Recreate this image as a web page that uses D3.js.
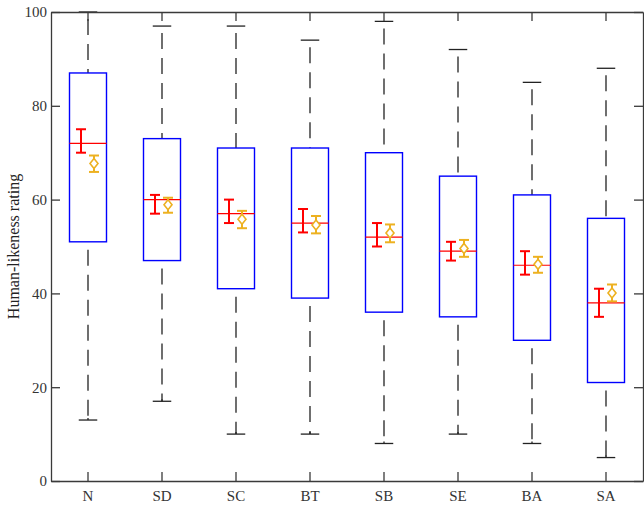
<!DOCTYPE html>
<html>
<head>
<meta charset="utf-8">
<script src="https://cdn.jsdelivr.net/npm/d3@7"></script>
<style>
  body { margin: 0; background: #fff; }
  svg { display: block; font-family: "Liberation Serif", "DejaVu Serif", serif; }
</style>
</head>
<body>
<div id="wrapper"></div>
<script>
const categories = ["N", "SD", "SC", "BT", "SB", "SE", "BA", "SA"]
const whiskerHigh = [100, 97, 97, 94, 98, 92, 85, 88]
const q3 = [87, 73, 71, 71, 70, 65, 61, 56]
const medians = [72, 60, 57, 55, 52, 49, 46, 38]
const q1 = [51, 47, 41, 39, 36, 35, 30, 21]
const whiskerLow = [13, 17, 10, 10, 8, 10, 8, 5]
const medianCILow = [70, 57, 55, 53, 50, 47, 44, 35]
const medianCIHigh = [75, 61, 60, 58, 55, 51, 49, 41]
const means = [67.7, 58.9, 55.8, 54.6, 52.9, 49.6, 46.2, 40.1]
const meanCILow = [65.9, 57.2, 53.9, 52.8, 50.9, 47.8, 44.4, 38.3]
const meanCIHigh = [69.4, 60.4, 57.6, 56.5, 54.7, 51.4, 47.8, 41.9]
const yTicks = [0, 20, 40, 60, 80, 100]

function drawBoxChart(){
    const dataset = categories.map((c, i) => ({
        cat: c,
        hi: whiskerHigh[i], q3: q3[i], med: medians[i], q1: q1[i], lo: whiskerLow[i],
        ciLo: medianCILow[i], ciHi: medianCIHigh[i],
        mean: means[i], mLo: meanCILow[i], mHi: meanCIHigh[i],
    }))

    let dimensions = {
        width: 644,
        height: 506,
        margin: { top: 12, right: 1, bottom: 25, left: 51 },
    }
    dimensions.boundedWidth = dimensions.width - dimensions.margin.left - dimensions.margin.right
    dimensions.boundedHeight = dimensions.height - dimensions.margin.top - dimensions.margin.bottom

    const wrapper = d3.select("#wrapper")
        .append("svg")
        .attr("width", dimensions.width)
        .attr("height", dimensions.height)

    const bounds = wrapper.append("g")
        .attr("transform", `translate(${dimensions.margin.left},${dimensions.margin.top})`)

    const yScale = d3.scaleLinear()
        .domain([0, 100])
        .range([dimensions.boundedHeight, 0])

    const xScale = d3.scaleBand()
        .domain(categories)
        .range([0, dimensions.boundedWidth])

    const cx = d => xScale(d.cat) + xScale.bandwidth() / 2
    const boxW = xScale.bandwidth() * 0.5
    const capW = boxW * 0.5
    const axisColor = "#3a3a3a"

    // whiskers (dashed, drawn top to bottom, starting with a gap)
    const groups = bounds.selectAll(".box").data(dataset).join("g").attr("class", "box")
    groups.append("line")
        .attr("x1", cx).attr("x2", cx)
        .attr("y1", d => yScale(d.hi)).attr("y2", d => yScale(d.q3))
        .attr("stroke", "#222").attr("stroke-width", 1.3)
        .attr("stroke-dasharray", "16,9").attr("stroke-dashoffset", 18)
    groups.append("line")
        .attr("x1", cx).attr("x2", cx)
        .attr("y1", d => yScale(d.q1)).attr("y2", d => yScale(d.lo))
        .attr("stroke", "#222").attr("stroke-width", 1.3)
        .attr("stroke-dasharray", "16,9").attr("stroke-dashoffset", 17)
    // caps
    groups.append("line")
        .attr("x1", d => cx(d) - capW / 2).attr("x2", d => cx(d) + capW / 2)
        .attr("y1", d => yScale(d.hi)).attr("y2", d => yScale(d.hi))
        .attr("stroke", "#222").attr("stroke-width", 1.3)
    groups.append("line")
        .attr("x1", d => cx(d) - capW / 2).attr("x2", d => cx(d) + capW / 2)
        .attr("y1", d => yScale(d.lo)).attr("y2", d => yScale(d.lo))
        .attr("stroke", "#222").attr("stroke-width", 1.3)
    // short vertical stub from the cap
    groups.append("line")
        .attr("x1", cx).attr("x2", cx)
        .attr("y1", d => yScale(d.lo)).attr("y2", d => yScale(d.lo) - 2)
        .attr("stroke", "#222").attr("stroke-width", 1.3)

    // boxes
    groups.append("rect")
        .attr("x", d => cx(d) - boxW / 2)
        .attr("width", boxW)
        .attr("y", d => yScale(d.q3))
        .attr("height", d => yScale(d.q1) - yScale(d.q3))
        .attr("fill", "white")
        .attr("stroke", "#0000ff")
        .attr("stroke-width", 1.4)

    // median line
    groups.append("line")
        .attr("x1", d => cx(d) - boxW / 2).attr("x2", d => cx(d) + boxW / 2)
        .attr("y1", d => yScale(d.med)).attr("y2", d => yScale(d.med))
        .attr("stroke", "#ff0000").attr("stroke-width", 1.2)

    // error bars: red (median CI), orange (mean CI)
    function errorBar(sel, xOff, loKey, hiKey, color){
        const eb = sel.append("g").attr("stroke", color).attr("stroke-width", 2)
        eb.append("line")
            .attr("x1", d => cx(d) + xOff).attr("x2", d => cx(d) + xOff)
            .attr("y1", d => yScale(d[loKey])).attr("y2", d => yScale(d[hiKey]))
        eb.append("line")
            .attr("x1", d => cx(d) + xOff - 5).attr("x2", d => cx(d) + xOff + 5)
            .attr("y1", d => yScale(d[loKey])).attr("y2", d => yScale(d[loKey]))
        eb.append("line")
            .attr("x1", d => cx(d) + xOff - 5).attr("x2", d => cx(d) + xOff + 5)
            .attr("y1", d => yScale(d[hiKey])).attr("y2", d => yScale(d[hiKey]))
    }
    errorBar(groups, -7, "ciLo", "ciHi", "#ff0000")
    errorBar(groups, 6, "mLo", "mHi", "#EDB120")

    groups.append("path")
        .attr("d", d => {
            const x = cx(d) + 6, y = yScale(d.mean)
            return `M${x},${y - 5}L${x + 4},${y}L${x},${y + 5}L${x - 4},${y}Z`
        })
        .attr("fill", "white")
        .attr("stroke", "#EDB120")
        .attr("stroke-width", 1.6)

    // axes (ticks inward, box around)
    const yAxis = bounds.append("g")
        .call(d3.axisLeft(yScale).tickValues(yTicks).tickSizeInner(-9).tickSizeOuter(0).tickPadding(4))
    const yAxisRight = bounds.append("g")
        .attr("transform", `translate(${dimensions.boundedWidth},0)`)
        .call(d3.axisRight(yScale).tickValues(yTicks).tickSizeInner(-9).tickSizeOuter(0).tickFormat(""))
    const xAxis = bounds.append("g")
        .attr("transform", `translate(0,${dimensions.boundedHeight})`)
        .call(d3.axisBottom(xScale).tickSizeInner(-9).tickSizeOuter(0).tickPadding(6))
    const xAxisTop = bounds.append("g")
        .call(d3.axisTop(xScale).tickSizeInner(-9).tickSizeOuter(0).tickFormat(""))

    for (const ax of [yAxis, yAxisRight, xAxis, xAxisTop]) {
        ax.selectAll("path").attr("stroke", axisColor).attr("stroke-width", 1.3)
        ax.selectAll("line").attr("stroke", axisColor).attr("stroke-width", 1.3)
        ax.selectAll("text").attr("fill", "#333").style("font-size", "15px")
            .style("font-family", "'Liberation Serif', 'DejaVu Serif', serif")
    }
    xAxis.selectAll("text").attr("dy", "0.9em")

    wrapper.append("text")
        .attr("transform", `translate(19,${dimensions.margin.top + dimensions.boundedHeight / 2}) rotate(-90)`)
        .attr("text-anchor", "middle")
        .attr("fill", "#222")
        .style("font-size", "16px")
        .text("Human-likeness rating")
}
drawBoxChart()
</script>
</body>
</html>
